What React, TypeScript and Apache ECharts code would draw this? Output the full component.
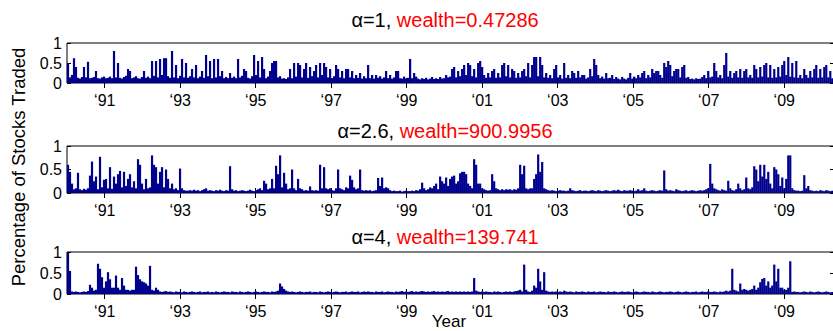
import React, { useEffect, useRef } from "react";
import * as echarts from "echarts";

// Percentage of stocks traded (in %), one value per ~0.053 year, starting 1990
const p1Values = [
50,14,20,62,40,13,11,15,40,14,53,12,13,15,30,12,11,14,16,12,
13,16,12,80,14,50,13,11,15,18,35,30,12,14,17,12,11,15,30,13,
16,12,55,18,55,14,60,20,62,62,17,13,80,14,45,12,18,60,14,50,
13,17,35,14,45,12,16,30,13,70,17,55,12,60,14,60,17,30,12,15,
12,25,13,16,12,60,14,18,35,30,13,11,17,70,20,55,14,65,35,12,
16,30,50,55,55,14,17,11,12,10,14,35,12,50,16,50,45,14,35,50,
13,40,17,30,45,14,50,20,50,40,14,35,12,17,45,35,14,30,12,35,
35,14,30,12,20,13,25,11,17,12,45,12,20,11,20,13,17,11,14,30,
12,20,11,14,30,30,12,11,16,11,13,60,12,25,16,11,9,12,10,13,
9,11,15,10,12,10,15,11,12,20,14,16,35,40,14,30,17,35,45,20,
50,45,17,35,14,50,55,40,20,13,25,14,30,35,13,25,14,45,50,17,
45,14,35,30,13,25,14,30,35,17,50,14,45,65,65,17,65,45,14,25,
13,20,12,35,45,14,20,11,50,13,20,12,30,25,13,30,14,20,20,11,
14,35,17,60,45,20,12,16,11,25,12,13,20,10,15,11,9,15,11,9,
13,25,11,16,12,20,14,25,30,12,20,14,35,25,30,30,20,13,50,40,
55,45,17,30,35,35,14,40,45,13,15,10,11,9,12,10,11,15,20,12,
30,14,16,50,30,14,20,12,45,75,16,30,13,25,30,14,35,13,30,35,
14,20,13,45,35,14,40,16,45,50,14,45,13,35,14,40,16,45,55,20,
65,16,50,14,55,13,20,12,35,20,13,30,14,35,45,13,35,14,40,45,14,30,12
];

const p2Values = [
60,45,20,8,10,43,8,6,9,7,10,37,67,25,35,8,77,12,28,30,
10,55,9,35,20,40,47,12,45,15,30,40,12,25,10,72,60,20,8,30,
10,12,80,60,55,20,45,55,12,50,30,10,20,8,10,6,52,10,6,5,
5,6,5,7,5,6,4,6,8,10,5,6,5,4,6,5,7,5,4,6,
5,57,8,5,6,4,5,6,5,4,5,7,5,4,6,8,10,6,26,20,
8,10,30,10,58,40,80,12,43,20,8,10,50,10,6,30,10,8,5,6,
5,14,6,5,6,5,60,10,55,10,8,10,6,5,10,50,10,8,6,12,
10,37,28,12,8,10,50,6,5,6,5,6,4,5,6,32,15,33,10,12,
10,6,4,5,4,4,5,3,4,5,4,4,5,4,6,5,8,22,10,6,
8,12,10,15,20,8,35,25,20,33,15,30,35,37,20,25,42,45,45,40,
20,15,10,72,60,20,20,10,8,6,5,6,40,25,10,8,6,8,6,8,
7,8,6,8,7,10,60,40,58,10,8,10,10,30,40,82,45,66,10,8,
6,5,6,5,4,5,6,5,5,4,5,10,6,5,4,5,6,4,5,5,
4,5,6,5,4,6,5,4,5,6,5,4,5,6,5,7,5,4,6,5,
5,6,5,4,5,8,5,6,10,5,4,5,6,5,4,5,6,5,48,8,
5,6,5,4,8,6,5,4,5,6,4,5,6,5,4,5,6,5,6,8,
10,62,20,10,8,6,5,8,6,5,26,10,6,5,8,20,10,6,8,33,
10,8,12,57,50,25,60,35,60,30,45,20,10,55,50,40,15,33,10,30,
80,80,10,6,5,5,4,5,38,10,15,6,5,4,5,4,6,5,4,6,5,4,5
];

const p3Values = [
98,55,6,5,6,5,4,5,6,5,7,22,15,8,10,72,60,40,15,30,
52,35,15,15,44,15,10,38,20,10,10,8,10,10,65,45,35,30,28,25,
20,67,10,8,15,10,6,5,6,7,5,6,5,4,6,5,5,4,6,5,
4,5,6,5,4,5,6,4,5,5,6,4,5,4,6,5,4,5,6,5,
5,4,6,5,5,4,6,5,4,5,6,5,4,5,6,5,4,5,6,5,
5,4,6,5,6,8,25,18,12,8,6,5,6,5,4,5,6,5,4,5,
5,6,4,5,5,4,6,5,4,5,6,5,4,5,6,5,4,5,5,6,
4,5,6,5,5,6,4,5,6,5,6,5,5,4,6,5,5,6,4,5,
6,5,5,4,6,5,6,7,5,6,5,6,7,5,6,5,6,7,6,5,
6,5,6,7,5,6,5,6,5,6,7,5,6,5,6,5,6,5,6,5,
6,5,6,38,8,6,5,6,5,6,5,5,4,6,5,6,5,4,5,6,
5,6,5,6,7,8,10,6,70,10,6,5,8,20,15,60,30,10,52,8,
6,5,6,5,6,5,6,5,8,6,5,6,5,4,6,5,5,6,5,4,
6,5,5,6,4,5,6,5,5,4,6,5,5,6,5,4,5,6,5,5,
6,5,4,5,6,5,4,5,6,5,5,4,6,5,4,5,6,5,4,5,
5,6,5,4,5,6,5,4,5,6,5,4,5,5,6,4,5,6,5,5,
6,5,5,6,5,4,6,5,6,8,6,8,60,10,8,6,25,10,12,10,
8,10,12,20,10,15,28,36,38,20,30,15,20,70,30,60,15,15,10,10,
15,78,5,6,5,5,4,5,6,5,4,6,5,4,5,6,5,4,5,6,5,4,5
];

const alphas = ["1", "2.6", "4"];
const wealths = ["0.47286", "900.9956", "139.741"];
const tickYears = [1991, 1993, 1995, 1997, 1999, 2001, 2003, 2005, 2007, 2009];

const START_YEAR = 1990;
const STEP = 0.053;
const X_MAX = 2010.318;

const FONT = "'Liberation Sans', Arial, Helvetica, sans-serif";
const NAVY = "#00008f";

const grids = [
  { left: 67, top: 43, width: 767, height: 40 },
  { left: 67, top: 146, width: 767, height: 47 },
  { left: 67, top: 252, width: 767, height: 42 },
];
const titleY = [20, 131, 237];

export default function App() {
  const ref = useRef<HTMLDivElement>(null);
  useEffect(() => {
    if (!ref.current) return;
    const chart = echarts.init(ref.current, undefined, { renderer: "svg" });
    const panels = [p1Values, p2Values, p3Values];
    const xAxes: any[] = [];
    const yAxes: any[] = [];
    panels.forEach((_, i) => {
      xAxes.push({
        type: "value", gridIndex: i, min: START_YEAR, max: X_MAX, position: "bottom",
        axisLine: { show: false },
        axisTick: { show: true, inside: true, length: 5, customValues: tickYears, lineStyle: { color: "#000" } },
        axisLabel: {
          customValues: tickYears, fontSize: 16, fontFamily: FONT, color: "#000", margin: 9,
          formatter: (v: number) => "\u2018" + String(Math.round(v)).slice(2),
        },
        splitLine: { show: false },
      });
    });
    panels.forEach((_, i) => {
      xAxes.push({
        type: "value", gridIndex: i, min: START_YEAR, max: X_MAX, position: "top",
        axisLine: { show: false },
        axisTick: { show: true, inside: true, length: 5, customValues: tickYears, lineStyle: { color: "#000" } },
        axisLabel: { show: false, customValues: tickYears },
        splitLine: { show: false },
      });
    });
    panels.forEach((_, i) => {
      yAxes.push({
        type: "value", gridIndex: i, min: 0, max: 1, interval: 0.5, position: "left",
        axisLine: { show: false },
        axisTick: { show: true, inside: true, length: 4, lineStyle: { color: "#000" } },
        axisLabel: { fontSize: 16, fontFamily: FONT, color: "#000", margin: 5 },
        splitLine: { show: false },
      });
    });
    panels.forEach((_, i) => {
      yAxes.push({
        type: "value", gridIndex: i, min: 0, max: 1, interval: 0.5, position: "right",
        axisLine: { show: false },
        axisTick: { show: true, inside: true, length: 4, lineStyle: { color: "#000" } },
        axisLabel: { show: false },
        splitLine: { show: false },
      });
    });
    const series = panels.map((vals, i) => ({
      type: "bar",
      xAxisIndex: i,
      yAxisIndex: i,
      barWidth: 2.2,
      itemStyle: { color: NAVY },
      data: vals.map((v, k) => [START_YEAR + (k + 0.5) * STEP, v / 100]),
      clip: true,
    }));
    const graphics: any[] = alphas.map((a, i) => ({
      type: "text",
      x: 445,
      y: titleY[i],
      style: {
        text: `{k|\u03b1=${a}, }{r|wealth=${wealths[i]}}`,
        textAlign: "center",
        textVerticalAlign: "middle",
        font: `20px ${FONT}`,
        rich: {
          k: { fill: "#000", fontSize: 20, fontFamily: FONT },
          r: { fill: "#ff0000", fontSize: 20, fontFamily: FONT },
        },
      },
    }));
    graphics.push({
      type: "text",
      x: 18,
      y: 167,
      rotation: Math.PI / 2,
      style: {
        text: "Percentage of Stocks Traded",
        textAlign: "center",
        textVerticalAlign: "middle",
        font: `18.5px ${FONT}`,
        fill: "#000",
      },
    });
    graphics.push({
      type: "text",
      x: 449,
      y: 321,
      style: {
        text: "Year",
        textAlign: "center",
        textVerticalAlign: "middle",
        font: `17px ${FONT}`,
        fill: "#000",
      },
    });
    chart.setOption({
      animation: false,
      backgroundColor: "#fff",
      grid: grids.map((g) => ({ ...g, show: true, borderColor: "#000", borderWidth: 1, backgroundColor: "transparent" })),
      xAxis: xAxes,
      yAxis: yAxes,
      series,
      graphic: graphics,
    });
    return () => chart.dispose();
  }, []);
  return (
    <div style={{ position: "fixed", left: 0, top: 0, width: 833, height: 331, overflow: "hidden", background: "#fff" }}>
      <div ref={ref} style={{ width: 840, height: 331 }} />
    </div>
  );
}
